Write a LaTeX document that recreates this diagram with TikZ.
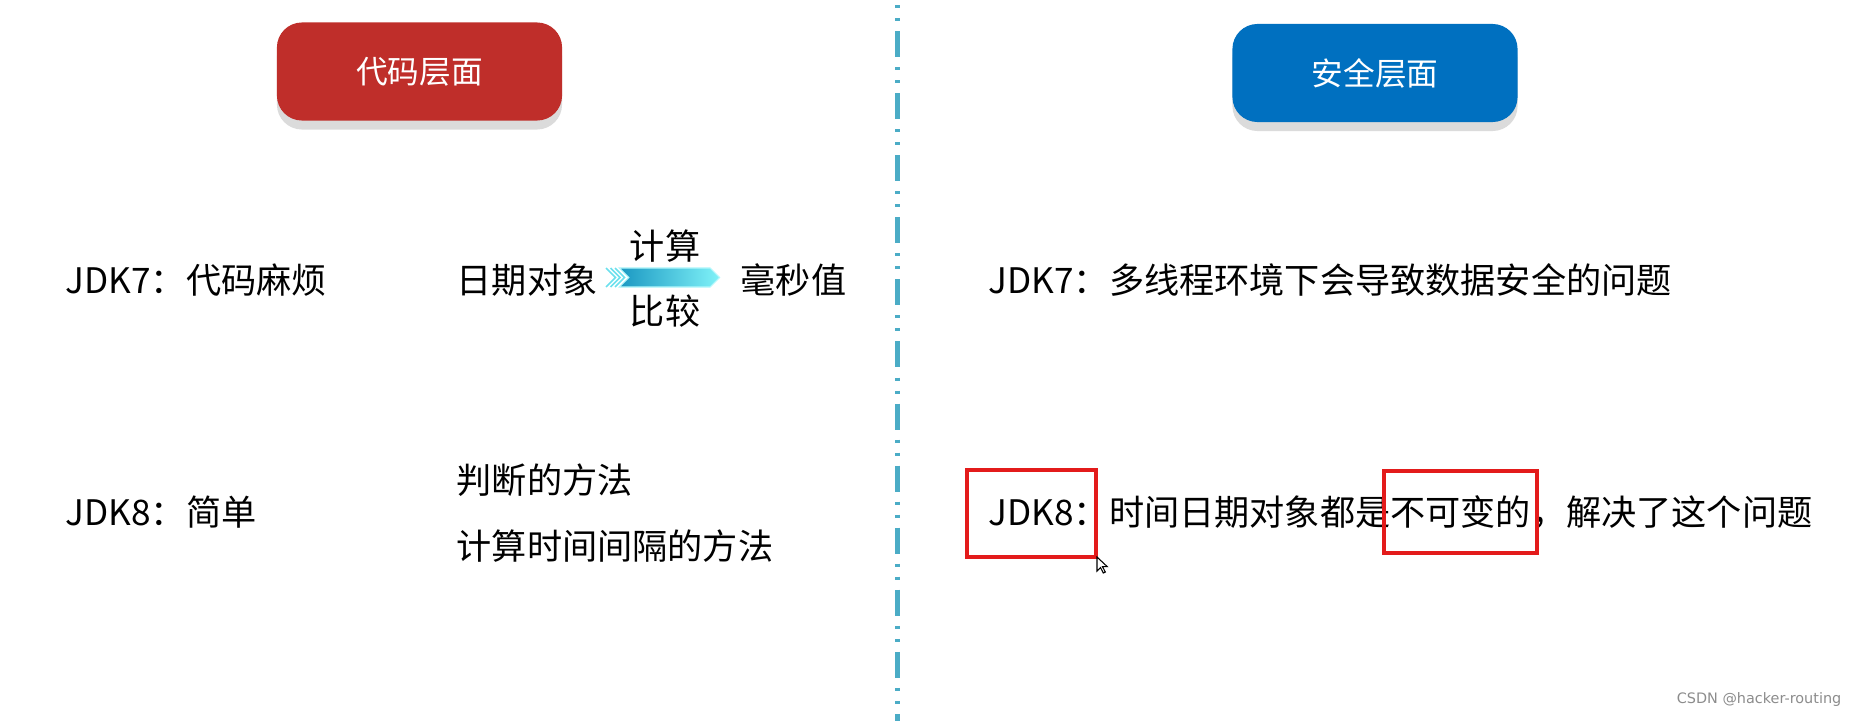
\documentclass[tikz,border=0pt]{standalone}
\usepackage{fontspec}
\setmainfont{Noto Sans CJK SC}
\newfontfamily\wmfont{DejaVu Sans}
\usetikzlibrary{shapes.symbols,shadows}

\definecolor{codered}{HTML}{BF2E2A}
\definecolor{safeblue}{HTML}{0070C0}
\definecolor{sepcyan}{HTML}{4BACC6}
\definecolor{markred}{HTML}{E31B1B}
\definecolor{flowdark}{HTML}{1A98C2}
\definecolor{flowlight}{HTML}{80F2F8}

\begin{document}
\begin{tikzpicture}[
    x=0.01cm,
    y=-0.01cm,
    font=\fontsize{10pt}{12pt}\selectfont,
    header/.style={
        rounded corners=0.25cm,
        minimum width=2.85cm,
        minimum height=0.98cm,
        text=white,
        font=\fontsize{9pt}{11pt}\selectfont,
        drop shadow={shadow xshift=0cm, shadow yshift=-0.09cm,
                     fill=black!14, opacity=1}
    },
    txt/.style={
        anchor=west,
        inner sep=0pt
    },
    flow/.style={
        signal,
        signal from=west,
        signal to=east,
        inner sep=0pt,
        minimum width=1.0cm,
        minimum height=0.19cm,
        left color=flowdark,
        right color=flowlight,
        draw=flowlight!60!white,
        line width=0.3pt
    },
    stripe/.style={
        draw=flowlight!80!flowdark,
        line width=0.45pt
    },
    markbox/.style={
        draw=markred,
        line width=1.15pt,
        inner sep=0pt
    }
]

\useasboundingbox (0,0) rectangle (1857,721);

% --------------------------------------------------
% Headers
% --------------------------------------------------

\node[header, fill=codered] (codelevel) at (419.5,71.5)
    {代码层面};

\node[header, fill=safeblue] (safelevel) at (1375,73)
    {安全层面};

% --------------------------------------------------
% Separator
% --------------------------------------------------

\draw[sepcyan, line width=1.42pt,
      dash pattern=on 0.85pt off 2.85pt on 0.85pt off 2.85pt on 7.4pt off 2.85pt,
      dash phase=16.2pt]
    (897,0) -- (897,721);

% --------------------------------------------------
% Code level
% --------------------------------------------------

\node[txt] (jdk7code) at (65,280)
    {JDK7：代码麻烦};

\node[txt] (datenode) at (456,280)
    {日期对象};

\foreach \x in {606,610.5,615}
{
    \draw[stripe] (\x,268) -- ++(9.5,9.5) -- ++(-9.5,9.5);
}

\node[flow] (flow) at (669.5,277.5) {};

\node (calcnode) at (665,246)
    {计算};

\node (cmpnode) at (665,311)
    {比较};

\node[txt] (msnode) at (740,280)
    {毫秒值};

\node[txt] (jdk8code) at (65,512)
    {JDK8：简单};

\node[txt] (judgenode) at (456,480)
    {判断的方法};

\node[txt] (spannode) at (456,546)
    {计算时间间隔的方法};

% --------------------------------------------------
% Safety level
% --------------------------------------------------

\node[txt] (jdk7safe) at (988,280)
    {JDK7：多线程环境下会导致数据安全的问题};

\node[txt] (jdk8safe) at (988,512)
    {JDK8：时间日期对象都是不可变的，解决了这个问题};

\node[markbox, minimum width=1.29cm, minimum height=0.87cm] (markjdk) at (1031.5,513.5) {};

\node[markbox, minimum width=1.53cm, minimum height=0.82cm] (markimmut) at (1460.5,512) {};

% cursor
\draw[fill=white, line width=0.3pt]
    (1097,557) -- ++(0,14) -- ++(3.5,-3.5) -- ++(2.8,5.5) -- ++(2,-1)
    -- ++(-2.8,-5.3) -- ++(4.8,0) -- cycle;

% --------------------------------------------------
% Watermark
% --------------------------------------------------

\node[anchor=east, inner sep=0pt, text=black!45,
      font=\wmfont\fontsize{4.1pt}{5pt}\selectfont] (mark) at (1842,700)
    {CSDN @hacker-routing};

\end{tikzpicture}
\end{document}
